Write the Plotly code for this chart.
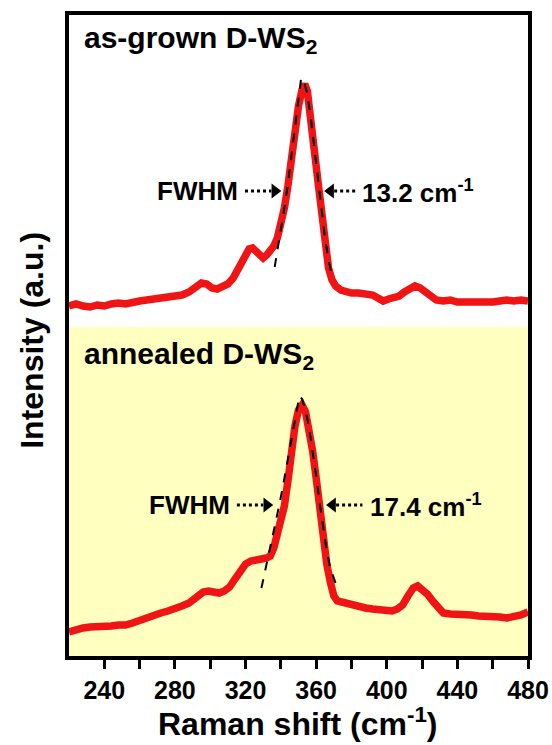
import plotly.graph_objects as go

# ---------------- data ----------------
shift_grown = [220, 224, 228, 232, 236, 240, 244, 248, 252, 256, 260, 264, 268, 272, 276, 280,
               284, 288, 292, 295, 298, 301, 304, 307, 310, 313, 316, 319, 322, 324, 326, 328,
               330, 332, 334, 336, 338, 340, 342, 344, 346, 348, 350, 352, 353.5, 355, 357, 359,
               361, 363, 365, 367, 369, 371, 374, 377, 380, 384, 388, 392, 395, 398, 401, 404,
               407, 410, 413, 416, 419, 422, 425, 428, 432, 436, 440, 444, 448, 452, 456, 460,
               464, 468, 472, 476, 480]
int_grown = [350, 352, 350, 349, 351, 350, 352, 353, 352, 354, 355, 356, 357, 357, 358, 359,
             361, 364, 370, 373, 372, 368, 367, 369, 372, 378, 388, 400, 407, 408, 405, 401,
             398, 401, 405, 410, 418, 430, 448, 470, 498, 525, 550, 566, 572, 565, 540, 505,
             475, 440, 410, 388, 376, 370, 366, 364, 363, 363, 362, 361, 358, 355, 357, 358,
             360, 364, 368, 370, 368, 364, 359, 356, 355, 356, 354, 354, 353, 353, 354, 354,
             355, 356, 355, 356, 355]

shift_annealed = [220, 224, 228, 232, 236, 240, 244, 248, 252, 256, 260, 264, 268, 272, 276, 280,
                  284, 288, 292, 296, 299, 302, 305, 308, 311, 314, 317, 320, 323, 326, 329, 332,
                  334, 336, 338, 340, 342, 344, 346, 348, 350, 352, 354, 356, 358, 360, 362, 364,
                  366, 368, 370, 372, 376, 380, 384, 388, 392, 396, 400, 403, 406, 409, 412, 415,
                  417.5, 420, 423, 426, 429, 432, 436, 440, 444, 448, 452, 456, 460, 464, 468, 472,
                  476, 480]
int_annealed = [24, 27, 28, 29, 29, 30, 30, 31, 31, 33, 36, 39, 41, 43, 45, 47,
                50, 53, 58, 64, 65, 64, 63, 65, 69, 77, 86, 92, 95, 97, 97, 98,
                100, 108, 120, 133, 150, 175, 205, 230, 246, 251, 244, 226, 205, 178, 148, 118,
                92, 74, 60, 55, 53, 51, 50, 48, 47, 46, 45, 45, 47, 51, 60, 68,
                70, 67, 62, 55, 48, 43, 42, 42, 41, 41, 40, 40, 39, 39, 38, 39,
                41, 44]

fit_grown_x = [336.5, 338, 340, 342, 344, 346, 348, 350, 351.5, 353, 355, 357, 359, 361, 363, 365, 367, 368.5]
fit_grown_y = [389, 404, 425, 448, 472, 500, 530, 558, 578, 576, 562, 538, 508, 476, 445, 418, 396, 384]

fit_annealed_x = [329, 331, 333, 335, 337, 339, 341, 343, 345, 347, 349, 350.5, 352, 354, 356, 358,
                  360, 362, 364, 366, 368, 370, 371]
fit_annealed_y = [68, 84, 100, 116, 132, 150, 168, 188, 208, 228, 246, 260, 257, 246, 228, 205,
                  180, 153, 127, 105, 88, 78, 73]

x_ticks = [240, 280, 320, 360, 400, 440, 480]
labels = ["as-grown D-WS<sub>2</sub>", "annealed D-WS<sub>2</sub>"]
fwhm_values = ["13.2 cm<sup>-1</sup>", "17.4 cm<sup>-1</sup>"]

# ---------------- figure ----------------
FONT = "Arial, Liberation Sans, sans-serif"
RED = "#F01414"

fig = go.Figure()
fig.add_trace(go.Scatter(x=shift_grown, y=int_grown, mode="lines",
                         line=dict(color=RED, width=7.5), showlegend=False))
fig.add_trace(go.Scatter(x=shift_annealed, y=int_annealed, mode="lines",
                         line=dict(color=RED, width=7.5), showlegend=False))
fig.add_trace(go.Scatter(x=fit_grown_x, y=fit_grown_y, mode="lines",
                         line=dict(color="black", width=2, dash="dash"), showlegend=False))
fig.add_trace(go.Scatter(x=fit_annealed_x, y=fit_annealed_y, mode="lines",
                         line=dict(color="black", width=2, dash="dash"), showlegend=False))

# yellow background for annealed panel
fig.add_shape(type="rect", xref="paper", yref="y", x0=0, x1=1, y0=0, y1=329,
              fillcolor="#FFFFC0", line=dict(width=0), layer="below")

# panel labels
fig.add_annotation(x=227.5, y=617, xref="x", yref="y", text=labels[0], showarrow=False,
                   xanchor="left", yanchor="middle",
                   font=dict(family=FONT, size=30, color="black", weight="bold"))
fig.add_annotation(x=227.5, y=301, xref="x", yref="y", text=labels[1], showarrow=False,
                   xanchor="left", yanchor="middle",
                   font=dict(family=FONT, size=30, color="black", weight="bold"))

# FWHM arrows + texts
arrow_rows = [
    # y, left text right-edge, left shaft start, left tip, right tip, right shaft end, right text left
    (465, 317.0, 319.7, 339.6, 365.2, 383.4, 385.1, fwhm_values[0]),
    (151, 312.5, 315.1, 335.0, 366.3, 386.2, 389.1, fwhm_values[1]),
]
for yv, ltx, l0, ltip, rtip, r1, rtx, val in arrow_rows:
    fig.add_annotation(x=ltx, y=yv, xref="x", yref="y", text="FWHM", showarrow=False,
                       xanchor="right", yanchor="middle",
                       font=dict(family=FONT, size=26, color="black", weight="bold"))
    fig.add_annotation(x=rtx, y=yv, xref="x", yref="y", text=val, showarrow=False,
                       xanchor="left", yanchor="middle",
                       font=dict(family=FONT, size=26, color="black", weight="bold"))
    # dotted shafts
    fig.add_shape(type="line", xref="x", yref="y", x0=l0, x1=ltip - 5, y0=yv, y1=yv,
                  line=dict(color="black", width=3, dash="dot"))
    fig.add_shape(type="line", xref="x", yref="y", x0=rtip + 5, x1=r1, y0=yv, y1=yv,
                  line=dict(color="black", width=3, dash="dot"))
    # arrow heads
    fig.add_trace(go.Scatter(x=[ltip - 3, rtip + 3], y=[yv, yv], mode="markers",
                             marker=dict(symbol=["triangle-right", "triangle-left"], size=13,
                                         color="black", line=dict(width=0)),
                             showlegend=False, hoverinfo="skip"))

# axis titles
fig.add_annotation(x=-0.081, y=0.493, xref="paper", yref="paper", text="Intensity (a.u.)",
                   textangle=-90, showarrow=False, xanchor="center", yanchor="middle",
                   font=dict(family=FONT, size=32, color="black", weight="bold"))
fig.add_annotation(x=0.499, y=-0.068, xref="paper", yref="paper",
                   text="Raman shift (cm<sup>-1</sup>)", showarrow=False,
                   xanchor="center", yanchor="top",
                   font=dict(family=FONT, size=32, color="black", weight="bold"))

fig.update_xaxes(range=[220, 480], tickvals=x_ticks, ticktext=[str(v) for v in x_ticks],
                 ticks="outside", ticklen=9, tickwidth=3, tickcolor="black",
                 minor=dict(tickvals=[260, 300, 340, 380, 420, 460], ticks="outside",
                            ticklen=9, tickwidth=3, tickcolor="black"),
                 showline=True, linewidth=4, linecolor="black", mirror=True,
                 showgrid=False, zeroline=False, automargin=False,
                 tickfont=dict(family=FONT, size=25, color="black", weight="bold"))
fig.update_yaxes(range=[0, 641], showticklabels=False, ticks="",
                 showline=True, linewidth=4, linecolor="black", mirror=True,
                 showgrid=False, zeroline=False, automargin=False)

fig.update_layout(width=552, height=745, margin=dict(l=69, r=24, t=15, b=89),
                  paper_bgcolor="white", plot_bgcolor="white")

fig.write_html("out.html", config={"displayModeBar": False},
               post_script="document.body.style.margin='0';document.body.style.padding='0';"
                           "document.body.style.overflow='hidden';")
